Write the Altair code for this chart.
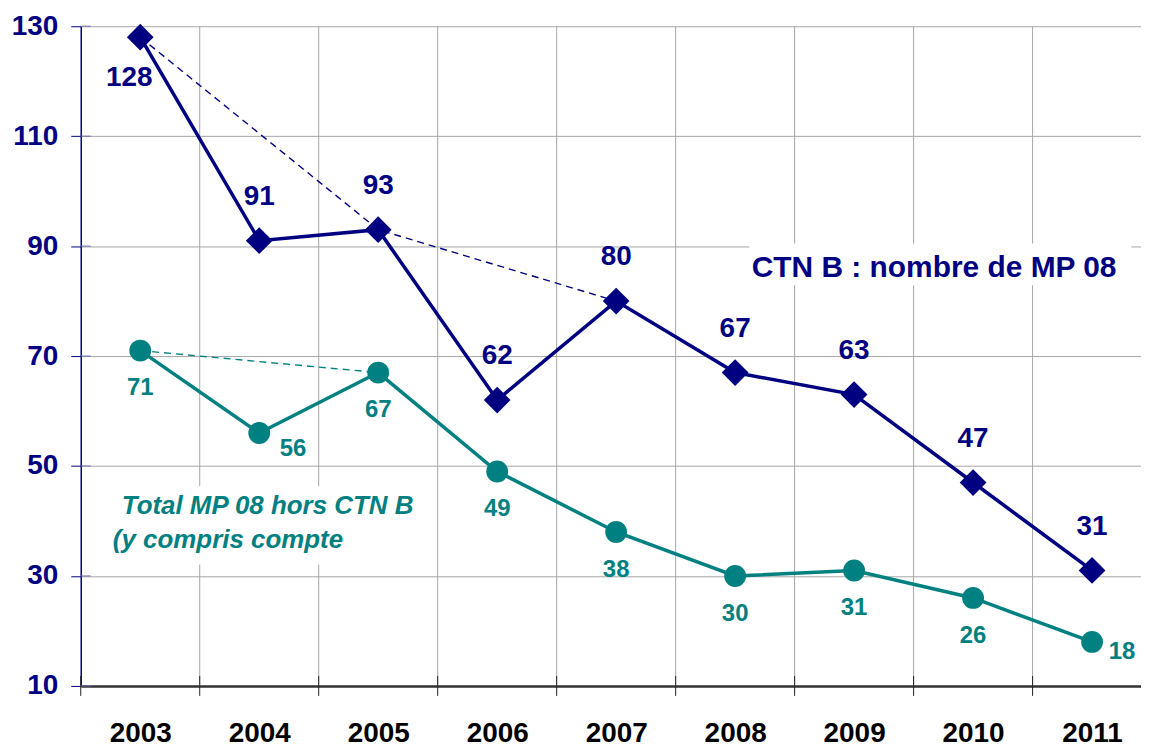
import altair as alt
import pandas as pd

# ---- data ----
years = [2003, 2004, 2005, 2006, 2007, 2008, 2009, 2010, 2011]
ctn_b = [128, 91, 93, 62, 80, 67, 63, 47, 31]
hors_ctn_b = [71, 56, 67, 49, 38, 30, 31, 26, 18]
ctn_trend_years = [2003, 2005, 2007]
ctn_trend_values = [128, 93, 80]
hors_trend_years = [2003, 2005]
hors_trend_values = [71, 67]
y_ticks = [10, 30, 50, 70, 90, 110, 130]
ctn_title = "CTN B : nombre de MP 08"
hors_title_lines = ["Total MP 08 hors CTN B", "(y compris compte"]

# ---- tables ----
df = pd.DataFrame({"year": years, "ctn": ctn_b, "hors": hors_ctn_b})
df_ctn_trend = pd.DataFrame({"year": ctn_trend_years, "v": ctn_trend_values})
df_hors_trend = pd.DataFrame({"year": hors_trend_years, "v": hors_trend_values})
df_bounds = pd.DataFrame({"b": [y - 0.5 for y in years]})
df_yt = pd.DataFrame({"t": y_ticks})

# annotation anchors (data coordinates)
df_ctn_txt = pd.DataFrame({"x": [2008.14], "y": [86.0], "txt": [ctn_title]})
df_hors_txt = pd.DataFrame({"x": [2002.845, 2002.77], "y": [42.8, 36.5], "txt": hors_title_lines})
df_boxes = pd.DataFrame({"x": [2008.12, 2002.70], "x2": [2011.33, 2005.42],
                         "y": [82.9, 32.1], "y2": [90.5, 46.3]})

NAVY = "#000080"
TEAL = "#008080"
GRID = "#a6a6a6"
FONT = "Liberation Sans"
W, H = 1064, 662

xs = alt.Scale(domain=[2002.5, 2002.5 + W / 119.4], nice=False, zero=False)
ys = alt.Scale(domain=[10, 130], nice=False, zero=False)

xaxis = alt.Axis(values=years, title=None, format="d", grid=False, ticks=False, tickSize=0,
                 labelFont=FONT, labelFontSize=28, labelFontWeight="bold", labelColor="#000000",
                 labelPadding=34, domainColor="#333333", domainWidth=2.5, labelFlush=False)
yaxis = alt.Axis(values=y_ticks, title=None, grid=True, gridColor=GRID, gridWidth=1,
                 ticks=True, tickSize=10, tickColor=NAVY, tickWidth=1,
                 labelFont=FONT, labelFontSize=28, labelFontWeight="bold", labelColor=NAVY,
                 labelPadding=13, domainColor=NAVY, domainWidth=1.5)


def X(f):
    return alt.X(f, type="quantitative", scale=xs, axis=xaxis)


def Y(f):
    return alt.Y(f, type="quantitative", scale=ys, axis=yaxis)


vgrid = alt.Chart(df_bounds).transform_filter(alt.datum.b > 2003).mark_rule(
    color=GRID, strokeWidth=1).encode(x=X("b"), y=alt.value(0), y2=alt.value(H))

boxes = alt.Chart(df_boxes).mark_rect(color="white").encode(
    x=X("x"), x2="x2", y=Y("y"), y2="y2")

xticks = alt.Chart(df_bounds).mark_rule(color="#222222", strokeWidth=1).encode(
    x=X("b"), y=alt.value(H - 10), y2=alt.value(H + 10))

yticks_in = alt.Chart(df_yt).mark_rule(color="#6a6ab8", strokeWidth=1).encode(
    y=Y("t"), x=alt.value(0), x2=alt.value(10))

ctn_dash = alt.Chart(df_ctn_trend).mark_line(color=NAVY, strokeWidth=1.4, strokeDash=[7, 5]).encode(
    x=X("year"), y=Y("v"))
hors_dash = alt.Chart(df_hors_trend).mark_line(color=TEAL, strokeWidth=1.4, strokeDash=[7, 5]).encode(
    x=X("year"), y=Y("v"))

ctn_line = alt.Chart(df).mark_line(color=NAVY, strokeWidth=3.5).encode(x=X("year"), y=Y("ctn"))
hors_line = alt.Chart(df).mark_line(color=TEAL, strokeWidth=3.5).encode(x=X("year"), y=Y("hors"))

ctn_pts = alt.Chart(df).mark_point(shape="diamond", filled=True, size=720, color=NAVY, opacity=1).encode(
    x=X("year"), y=Y("ctn"))
hors_pts = alt.Chart(df).mark_point(shape="circle", filled=True, size=480, color=TEAL, opacity=1).encode(
    x=X("year"), y=Y("hors"))

navy_txt = dict(font=FONT, fontSize=28, fontWeight="bold", color=NAVY)
teal_txt = dict(font=FONT, fontSize=24, fontWeight="bold", color=TEAL)

ctn_lbl = alt.Chart(df).transform_filter(alt.datum.year != 2003).mark_text(dy=-44, **navy_txt).encode(
    x=X("year"), y=Y("ctn"), text="ctn:Q")
ctn_lbl0 = alt.Chart(df).transform_filter(alt.datum.year == 2003).mark_text(dx=-11, dy=41, **navy_txt).encode(
    x=X("year"), y=Y("ctn"), text="ctn:Q")

hors_lbl = alt.Chart(df).transform_filter(
    (alt.datum.year != 2004) & (alt.datum.year != 2011)).mark_text(dy=38, **teal_txt).encode(
    x=X("year"), y=Y("hors"), text="hors:Q")
hors_lbl_a = alt.Chart(df).transform_filter(alt.datum.year == 2004).mark_text(dx=34, dy=16, **teal_txt).encode(
    x=X("year"), y=Y("hors"), text="hors:Q")
hors_lbl_b = alt.Chart(df).transform_filter(alt.datum.year == 2011).mark_text(dx=30, dy=10, **teal_txt).encode(
    x=X("year"), y=Y("hors"), text="hors:Q")

ctn_note = alt.Chart(df_ctn_txt).mark_text(align="left", font=FONT, fontSize=30, fontWeight="bold",
                                           color=NAVY).encode(x=X("x"), y=Y("y"), text="txt:N")
hors_note = alt.Chart(df_hors_txt).mark_text(align="left", font=FONT, fontSize=26, fontWeight="bold",
                                             fontStyle="italic", color=TEAL).encode(
    x=X("x"), y=Y("y"), text="txt:N")

chart = alt.layer(
    vgrid, boxes, xticks, yticks_in, ctn_dash, hors_dash, ctn_line, hors_line,
    ctn_pts, hors_pts, ctn_lbl, ctn_lbl0, hors_lbl, hors_lbl_a, hors_lbl_b, ctn_note, hors_note
).properties(
    width=W, height=H,
    autosize=alt.AutoSizeParams(type="none"),
    padding={"left": 73, "top": 17, "right": 0, "bottom": 60},
    background="white",
).configure_view(stroke=None)

chart.save("out.html", embed_options={"renderer": "svg", "actions": False})
